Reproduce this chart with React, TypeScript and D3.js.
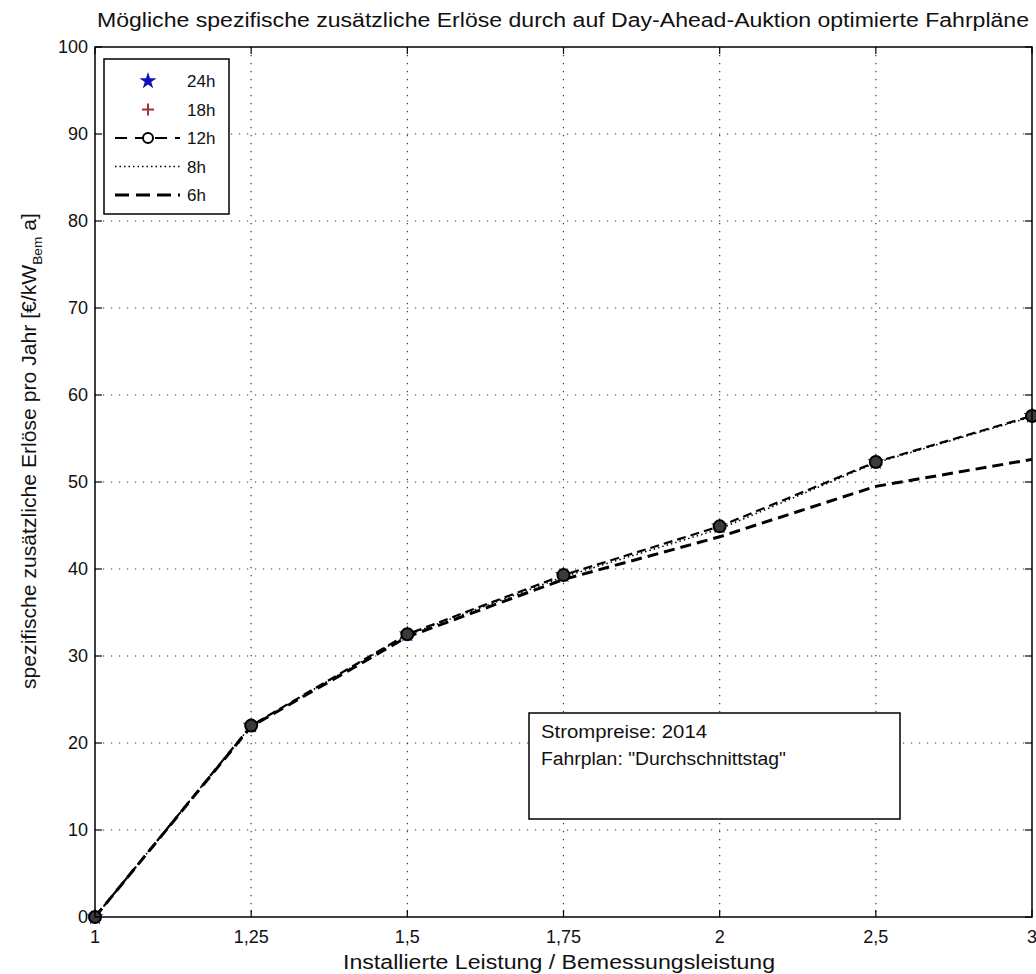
import React from 'react';
import * as d3 from 'd3';

// categories (x axis is categorical, equally spaced)
const xLabels = ['1', '1,25', '1,5', '1,75', '2', '2,5', '3'];
const yTicks = [0, 10, 20, 30, 40, 50, 60, 70, 80, 90, 100];

// series values [€/kW_Bem a]
const s24h = [0, 22, 32.5, 39.3, 44.9, 52.3, 57.6];
const s18h = [0, 22, 32.5, 39.3, 44.9, 52.3, 57.6];
const s12h = [0, 22, 32.5, 39.3, 44.9, 52.3, 57.6];
const s8h = [0, 22, 32.4, 39.1, 44.6, 52.2, 57.5];
const s6h = [0, 21.9, 32.2, 38.8, 43.7, 49.5, 52.6];

const title = 'Mögliche spezifische zusätzliche Erlöse durch auf Day-Ahead-Auktion optimierte Fahrpläne';
const xTitle = 'Installierte Leistung / Bemessungsleistung';
const infoLines = ['Strompreise: 2014', 'Fahrplan: "Durchschnittstag"'];

const W = 1036;
const H = 974;
const left = 95;
const right = 1032;
const top = 47;
const bottom = 917;
const font = "'Liberation Sans', Arial, sans-serif";

const App = () => {
  const x = d3.scalePoint<string>().domain(xLabels).range([left, right]);
  const y = d3.scaleLinear().domain([0, 100]).range([bottom, top]);

  const line = d3
    .line<number>()
    .x((_, i) => x(xLabels[i]) as number)
    .y((d) => y(d));

  const star = d3.symbol(d3.symbolStar, 90)();
  const tick = 7;

  const legend = [
    { label: '24h', kind: 'star' },
    { label: '18h', kind: 'plus' },
    { label: '12h', kind: 'circle' },
    { label: '8h', kind: 'dot' },
    { label: '6h', kind: 'dash' },
  ];
  const legX0 = 115;
  const legX1 = 180;
  const legMid = 148;

  return (
    <svg
      width={W}
      height={H}
      style={{ position: 'absolute', left: 0, top: 0, background: '#fff' }}
      fontFamily={font}
    >
      {/* grid */}
      <g stroke="#333" strokeWidth={1.2} strokeDasharray="1.2,6.8">
        {xLabels.slice(1, -1).map((d) => (
          <line key={d} x1={x(d)} x2={x(d)} y1={top} y2={bottom} />
        ))}
        {yTicks.slice(1, -1).map((d) => (
          <line key={d} x1={left} x2={right} y1={y(d)} y2={y(d)} />
        ))}
      </g>

      {/* ticks on all four sides */}
      <g stroke="#000" strokeWidth={1.2}>
        {xLabels.map((d) => (
          <g key={d}>
            <line x1={x(d)} x2={x(d)} y1={bottom} y2={bottom - tick} />
            <line x1={x(d)} x2={x(d)} y1={top} y2={top + tick} />
          </g>
        ))}
        {yTicks.map((d) => (
          <g key={d}>
            <line x1={left} x2={left + tick} y1={y(d)} y2={y(d)} />
            <line x1={right} x2={right - tick} y1={y(d)} y2={y(d)} />
          </g>
        ))}
      </g>

      {/* info box */}
      <rect x={529} y={713} width={371} height={106} fill="#fff" stroke="#000" strokeWidth={1.5} />
      {infoLines.map((t, i) => (
        <text
          key={t}
          x={541}
          y={738 + i * 27}
          fontSize={18}
          fill="#111"
          textLength={i === 0 ? 166 : 245}
          lengthAdjust="spacingAndGlyphs"
        >
          {t}
        </text>
      ))}

      {/* series */}
      <path d={line(s8h) as string} fill="none" stroke="#000" strokeWidth={1.5} strokeDasharray="1.5,3" />
      <path d={line(s6h) as string} fill="none" stroke="#000" strokeWidth={3} strokeDasharray="11,6" />
      {s24h.map((v, i) => (
        <path key={i} d={star as string} transform={`translate(${x(xLabels[i])},${y(v)})`} fill="#1010c0" />
      ))}
      {s18h.map((v, i) => (
        <g key={i} stroke="#a0303a" strokeWidth={2} transform={`translate(${x(xLabels[i])},${y(v)})`}>
          <line x1={-6} x2={6} y1={0} y2={0} />
          <line x1={0} x2={0} y1={-6} y2={6} />
        </g>
      ))}
      <path d={line(s12h) as string} fill="none" stroke="#000" strokeWidth={2.2} strokeDasharray="9,5" />
      {s12h.map((v, i) => (
        <circle key={i} cx={x(xLabels[i])} cy={y(v)} r={6} fill="#3a3a3a" stroke="#000" strokeWidth={2} />
      ))}

      {/* axes box */}
      <rect x={left} y={top} width={right - left} height={bottom - top} fill="none" stroke="#000" strokeWidth={1.5} />

      {/* legend */}
      <rect x={104} y={59} width={125} height={155} fill="#fff" stroke="#000" strokeWidth={1.5} />
      {legend.map((d, i) => {
        const ly = 81 + i * 28.5;
        return (
          <g key={d.label}>
            {d.kind === 'star' && (
              <path d={star as string} transform={`translate(${legMid},${ly})`} fill="#1010c0" />
            )}
            {d.kind === 'plus' && (
              <g stroke="#a0303a" strokeWidth={2} transform={`translate(${legMid},${ly})`}>
                <line x1={-6} x2={6} y1={0} y2={0} />
                <line x1={0} x2={0} y1={-6} y2={6} />
              </g>
            )}
            {d.kind === 'circle' && (
              <g>
                <line x1={legX0} x2={legX1} y1={ly} y2={ly} stroke="#000" strokeWidth={2.2} strokeDasharray="12,8" />
                <circle cx={legMid} cy={ly} r={5} fill="#fff" stroke="#000" strokeWidth={2} />
              </g>
            )}
            {d.kind === 'dot' && (
              <line x1={legX0} x2={legX1} y1={ly} y2={ly} stroke="#000" strokeWidth={1.5} strokeDasharray="1.5,3" />
            )}
            {d.kind === 'dash' && (
              <line x1={legX0} x2={legX1} y1={ly} y2={ly} stroke="#000" strokeWidth={3} strokeDasharray="14,7" />
            )}
            <text x={187} y={ly + 6} fontSize={17} fill="#111">
              {d.label}
            </text>
          </g>
        );
      })}

      {/* tick labels */}
      {xLabels.map((d) => (
        <text key={d} x={x(d)} y={943} fontSize={18} textAnchor="middle" fill="#111">
          {d}
        </text>
      ))}
      {yTicks.map((d) => (
        <text key={d} x={88} y={y(d) + 6} fontSize={18} textAnchor="end" fill="#111">
          {d}
        </text>
      ))}

      {/* titles */}
      <text x={563} y={27} fontSize={20} textAnchor="middle" fill="#111" textLength={932} lengthAdjust="spacingAndGlyphs">
        {title}
      </text>
      <text x={559} y={969} fontSize={20} textAnchor="middle" fill="#111" textLength={432} lengthAdjust="spacingAndGlyphs">
        {xTitle}
      </text>
      <text
        transform="translate(36,451) rotate(-90)"
        fontSize={20}
        textAnchor="middle"
        fill="#111"
        textLength={476}
        lengthAdjust="spacingAndGlyphs"
      >
        spezifische zusätzliche Erlöse pro Jahr [€/kW
        <tspan dy={6} fontSize={13}>Bem</tspan>
        <tspan dy={-6}> a]</tspan>
      </text>
    </svg>
  );
};

export default App;
